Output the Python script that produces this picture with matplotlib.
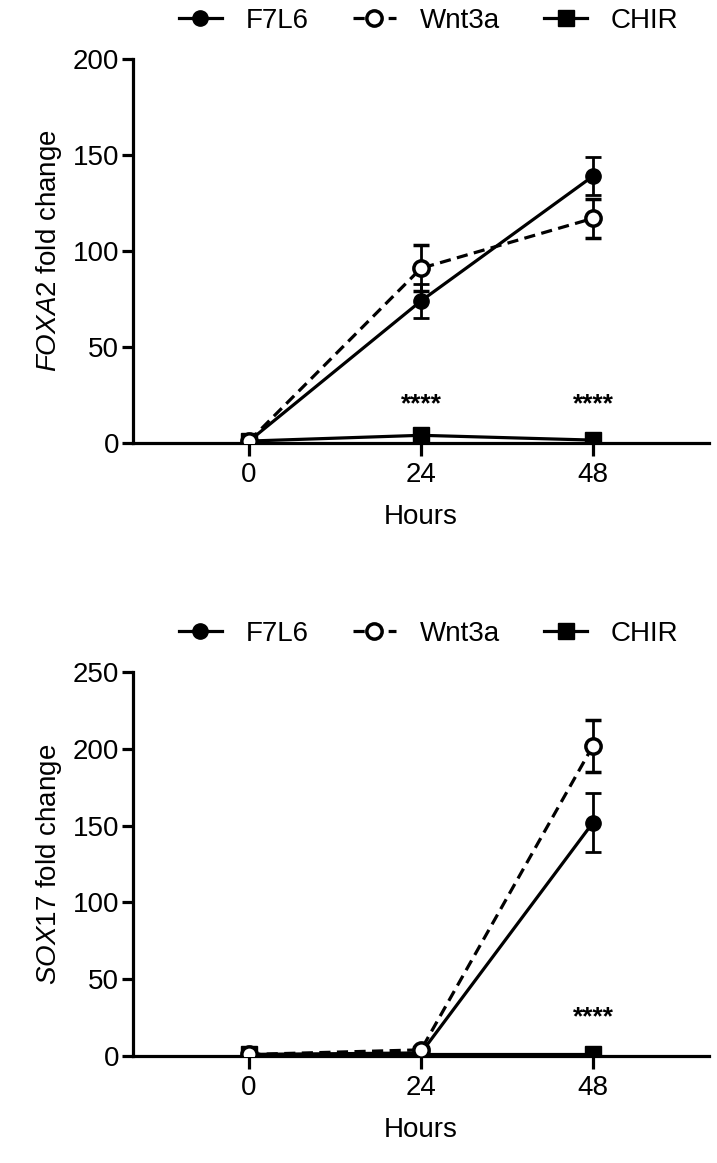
import matplotlib
matplotlib.use("Agg")
from matplotlib import pyplot as plt
from matplotlib.lines import Line2D

plt.rcParams["font.family"] = ["Liberation Sans", "DejaVu Sans"]
plt.rcParams["mathtext.fontset"] = "custom"
plt.rcParams["mathtext.it"] = "Liberation Sans:italic"
plt.rcParams["mathtext.rm"] = "Liberation Sans"

# dane
hours = [0, 24, 48]
series = ["F7L6", "Wnt3a", "CHIR"]

foxa2_f7l6 = [1, 74, 139]
foxa2_f7l6_err = [0.3, 9, 10]
foxa2_wnt3a = [1, 91, 117]
foxa2_wnt3a_err = [0.3, 12, 10]
foxa2_chir = [1, 4, 1.5]
foxa2_chir_err = [0.2, 0.8, 0.3]
foxa2_stars = [24, 48]

sox17_f7l6 = [1, 2, 152]
sox17_f7l6_err = [0.3, 0.5, 19.5]
sox17_wnt3a = [1, 4, 202]
sox17_wnt3a_err = [0.3, 1, 17]
sox17_chir = [1, 1, 1]
sox17_chir_err = [0.2, 0.2, 0.2]
sox17_stars = [48]

LW = 2.3
FS = 20


def draw(ax, f7, f7e, wn, wne, ch, che, ymax, step, star_h, stars, gene):
    ax.errorbar(hours, ch, yerr=che, color="black", lw=LW, marker="s", ms=11,
                capsize=6, elinewidth=2, capthick=2, zorder=3)
    ax.errorbar(hours, f7, yerr=f7e, color="black", lw=LW, marker="o", ms=11,
                capsize=6, elinewidth=2, capthick=2, zorder=4)
    ax.errorbar(hours, wn, yerr=wne, color="black", lw=LW, marker="o", ms=11,
                mfc="white", mec="black", mew=2.5, dashes=(3.5, 2),
                capsize=6, elinewidth=2, capthick=2, zorder=5)
    # gwiazdki istotności
    for h in stars:
        ax.text(h, star_h, "****", ha="center", va="center", fontsize=19,
                fontweight="bold")

    ax.set_xlim(-16.2, 64.2)
    ax.set_ylim(0, ymax)
    ax.set_xticks(hours)
    ax.set_yticks(range(0, ymax + 1, step))
    for s in ["top", "right"]:
        ax.spines[s].set_visible(False)
    for s in ["left", "bottom"]:
        ax.spines[s].set_linewidth(LW)
    ax.tick_params(axis="y", direction="out", length=8, width=LW,
                   labelsize=FS, pad=2)
    ax.tick_params(axis="x", direction="out", length=9, width=LW,
                   labelsize=FS, pad=5)
    ax.set_xlabel("Hours", fontsize=FS, labelpad=11)
    ax.set_ylabel(r"$\mathit{" + gene + "}$ fold change", fontsize=FS,
                  labelpad=6)

    handles = [
        Line2D([], [], color="black", lw=LW, marker="o", ms=11),
        Line2D([], [], color="black", lw=LW, marker="o", ms=11, mfc="white",
               mew=2.5, dashes=(3.5, 2)),
        Line2D([], [], color="black", lw=LW, marker="s", ms=11),
    ]
    ax.legend(handles, series, loc="center", bbox_to_anchor=(0.513, 1.10),
              ncol=3, frameon=False, fontsize=FS, handlelength=1.55,
              handletextpad=0.85, columnspacing=1.6)


fig = plt.figure(figsize=(7.17, 11.63), dpi=100)
ax1 = fig.add_axes([0.1855, 0.6191, 0.8035, 0.3302])
ax2 = fig.add_axes([0.1855, 0.0920, 0.8035, 0.3302])

draw(ax1, foxa2_f7l6, foxa2_f7l6_err, foxa2_wnt3a, foxa2_wnt3a_err,
     foxa2_chir, foxa2_chir_err, 200, 50, 20, foxa2_stars, "FOXA2")
draw(ax2, sox17_f7l6, sox17_f7l6_err, sox17_wnt3a, sox17_wnt3a_err,
     sox17_chir, sox17_chir_err, 250, 50, 25, sox17_stars, "SOX17")

plt.savefig("out.png", dpi=100)
